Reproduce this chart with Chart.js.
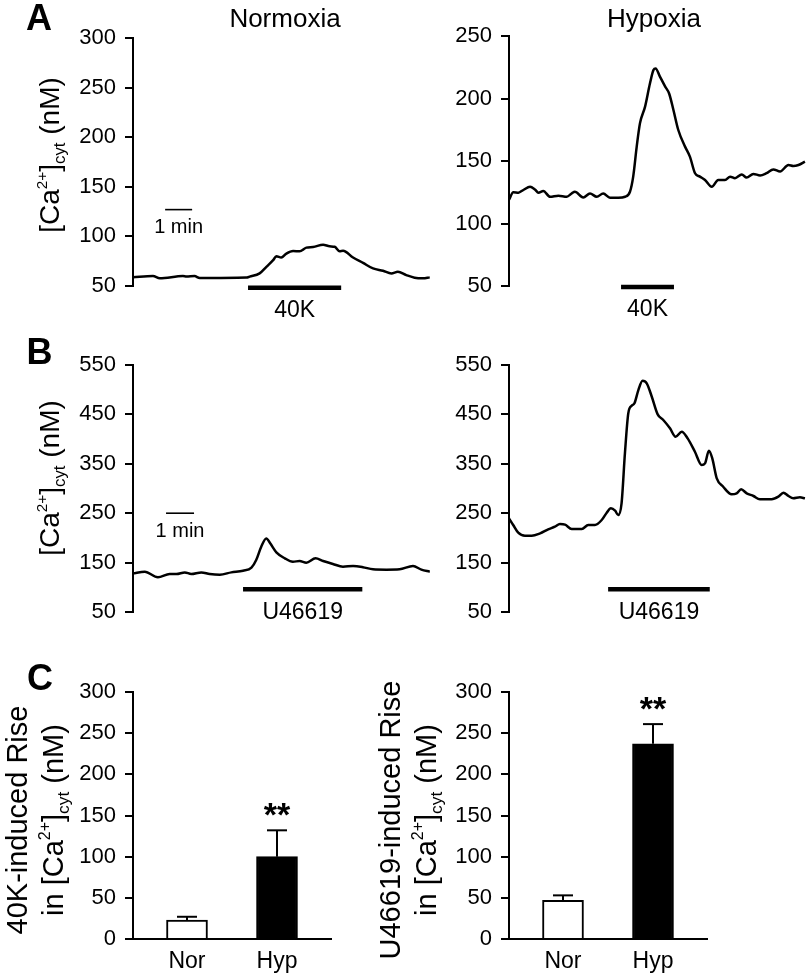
<!DOCTYPE html>
<html><head><meta charset="utf-8">
<script src="https://cdn.jsdelivr.net/npm/chart.js@4.4.0/dist/chart.umd.min.js"></script>
<script>
// ---------- DATA ----------
// Panel A, Normoxia, 40K trace (time in min, [Ca2+]cyt in nM)
const tNorK  = [0,0.74,0.99,1.85,1.98,2.28,2.47,4.2,4.32,4.69,4.94,5.19,5.31,5.49,5.68,5.93,6.17,6.42,6.67,7.04,7.28,7.47,7.65,7.78,8.15,8.52,8.89,9.26,9.57,9.81,10.12,10.43,10.74,10.99];
const caNorK = [58.7,60,57.7,60,59.5,60,58,58.5,59.5,62.7,69.3,76,80,78.7,82.7,85.3,85,88.7,89.3,91.7,90,89.5,85,85.5,78.7,73.3,67.7,65.3,62.7,64.3,61,58.3,57.7,58.7];
// Panel A, Hypoxia, 40K trace
const tHypK  = [0,0.16,0.35,0.53,0.78,0.96,1.09,1.27,1.52,1.83,2.14,2.32,2.44,2.75,3.0,3.25,3.49,3.74,4.05,4.3,4.48,4.6,4.73,4.85,5.04,5.22,5.35,5.43,5.59,5.78,5.93,6.09,6.27,6.52,6.7,6.89,7.07,7.26,7.51,7.75,8.0,8.19,8.37,8.62,8.8,9.05,9.3,9.54,9.79,10.04,10.35,10.53,10.72,10.96];
const caHypK = [119,125,124.7,126.8,129.4,127.2,124.7,126,121.4,122.3,121.4,124,125.4,120.8,124,121.4,124,120.6,120.6,121.4,125.4,137.5,161.5,180.1,193.5,212,222.8,224.1,217.5,209.7,204,190.8,174.8,161.5,153.5,140.2,137.5,134.8,129.4,134.8,134.8,137.5,136.3,139.2,136.8,139.7,138.4,140.3,143.3,141.6,146.8,146,146.8,149.5];
// Panel B, Normoxia, U46619 trace
const tNorU  = [0,0.42,0.89,1.31,1.55,1.85,2.08,2.44,2.74,3.1,3.51,3.93,4.23,4.4,4.58,4.76,4.9,5.12,5.42,5.71,5.95,6.19,6.52,6.79,7.14,7.5,7.86,8.21,8.57,9.05,9.52,10.0,10.3,10.6];
const caNorU = [128.3,131.6,120.2,126.9,126.9,130.2,126.9,130.2,126.9,125.5,130.2,133.6,139.7,155.2,182.2,199,189,170.8,158.7,151.8,153.2,149.8,158.7,153.2,147.2,141.7,143.1,140.8,136.4,135.7,136.4,143.1,135.7,131.6];
// Panel B, Hypoxia, U46619 trace
const tHypU  = [0,0.15,0.33,0.57,0.81,1.11,1.4,1.64,1.82,2.0,2.24,2.6,2.83,3.07,3.31,3.49,3.64,3.79,3.9,4.02,4.14,4.26,4.38,4.48,4.62,4.77,4.92,5.1,5.31,5.51,5.75,5.95,6.17,6.38,6.64,6.88,7.0,7.14,7.26,7.42,7.65,7.95,8.13,8.29,8.49,8.73,8.96,9.38,9.62,9.8,9.98,10.15,10.39,10.57];
const caHypU = [239.6,226.1,210.5,204.4,204.4,209.3,217.4,222.7,228.1,226.8,218,218,226.1,226.1,236.2,251,259.9,255,246.3,270,371.2,452.2,467.6,472.4,499.3,518.2,512.9,485.8,450.1,438.6,421.8,404.8,414.9,401.5,374.4,347.5,350.9,376.5,361.1,320.6,303.6,288.2,290.2,298.3,290.2,284.8,278.1,278.1,283.4,291.5,284.8,280.1,282.1,280.1];
// Application bars: [start min, end min, level nM]
const stimNorK = [4.26, 7.71, 48.3];
const stimHypK = [4.15, 6.11, 49.2];
const stimNorU = [3.93, 8.19, 96];
const stimHypU = [3.54, 7.17, 96];
// 1-min scale bars: [start min, level nM]
const scaleBarA = [1.19, 127];
const scaleBarB = [1.18, 250];
// Panel C bar charts
const barCats   = ['Nor', 'Hyp'];
const riseK     = [23, 100];
const riseKErr  = [4, 32];
const riseU     = [47, 237];
const riseUErr  = [6, 24];
// Tick labels
const yTicksNorK = [50,100,150,200,250,300];
const yTicksHypK = [50,100,150,200,250];
const yTicksU    = [50,150,250,350,450,550];
const yTicksRise = [0,50,100,150,200,250,300];
</script>
<style>
html,body{margin:0;padding:0;background:#fff;}
#wrap{position:relative;width:808px;height:976px;overflow:hidden;background:#fff;font-family:"Liberation Sans",Arial,sans-serif;color:#000;}
canvas{position:absolute;left:0;top:0;}
.t{position:absolute;white-space:nowrap;line-height:1;transform:translate(-50%,-50%);}
.r{position:absolute;white-space:nowrap;text-align:center;transform:rotate(-90deg);}
sup{font-size:55%;vertical-align:baseline;position:relative;top:-0.8em;}
sub{font-size:60%;vertical-align:baseline;position:relative;top:0.35em;}
</style></head>
<body><div id="wrap">
<canvas id="cA1" width="808" height="976"></canvas>
<canvas id="cA2" width="808" height="976"></canvas>
<canvas id="cB1" width="808" height="976"></canvas>
<canvas id="cB2" width="808" height="976"></canvas>
<canvas id="cC1" width="808" height="976"></canvas>
<canvas id="cC2" width="808" height="976"></canvas>

<div class="t" style="left:39px;top:17.5px;font-size:36px;font-weight:bold">A</div>
<div class="t" style="left:39.5px;top:351.5px;font-size:36px;font-weight:bold">B</div>
<div class="t" style="left:40px;top:677.5px;font-size:36px;font-weight:bold">C</div>
<div class="t" style="left:285px;top:18px;font-size:26px">Normoxia</div>
<div class="t" style="left:654px;top:18px;font-size:26px">Hypoxia</div>

<div class="r" style="left:-60px;top:140px;width:220px;height:30px;line-height:30px;font-size:28px">[Ca<sup>2+</sup>]<sub>cyt</sub> (nM)</div>
<div class="r" style="left:-60px;top:463px;width:220px;height:30px;line-height:30px;font-size:28px">[Ca<sup>2+</sup>]<sub>cyt</sub> (nM)</div>
<div class="r" style="left:-125.3px;top:784px;width:320px;height:72px;line-height:36px;font-size:29px">40K-induced Rise<br>in [Ca<sup>2+</sup>]<sub>cyt</sub> (nM)</div>
<div class="r" style="left:248px;top:784px;width:320px;height:72px;line-height:36px;font-size:29px">U46619-induced Rise<br>in [Ca<sup>2+</sup>]<sub>cyt</sub> (nM)</div>
</div>
<script>
const FONT = '"Liberation Sans", Arial, sans-serif';
Chart.defaults.font.family = FONT;
Chart.defaults.color = '#000';

function yAxis(ticksArr, width) {
  return {
    type: 'linear', position: 'left',
    min: ticksArr[0], max: ticksArr[ticksArr.length - 1],
    afterBuildTicks: s => { s.ticks = ticksArr.map(v => ({ value: v })); },
    afterFit: s => { s.width = width; },
    grid: { display: true, drawOnChartArea: false, drawTicks: true, tickLength: 8, tickWidth: 2, tickColor: '#000', color: '#000', lineWidth: 2 },
    border: { display: true, color: '#000', width: 2 },
    ticks: { font: { size: 22 }, color: '#000', padding: 9, autoSkip: false }
  };
}

function line(ctx, x1, y1, x2, y2) { ctx.beginPath(); ctx.moveTo(x1, y1); ctx.lineTo(x2, y2); ctx.stroke(); }

function traceMarks(stim, stimLabel, scaleBar) {
  return {
    id: 'traceMarks',
    afterDraw(chart) {
      const ctx = chart.ctx, xs = chart.scales.x, ys = chart.scales.y;
      ctx.save();
      ctx.strokeStyle = '#000'; ctx.fillStyle = '#000'; ctx.lineCap = 'butt';
      const x1 = xs.getPixelForValue(stim[0]), x2 = xs.getPixelForValue(stim[1]), y = ys.getPixelForValue(stim[2]);
      ctx.lineWidth = 4.5; line(ctx, x1, y, x2, y);
      ctx.font = '23px ' + FONT; ctx.textAlign = 'center'; ctx.textBaseline = 'middle';
      ctx.fillText(stimLabel, (x1 + x2) / 2, y + 23);
      if (scaleBar) {
        const s1 = xs.getPixelForValue(scaleBar[0]), s2 = xs.getPixelForValue(scaleBar[0] + 1), sy = ys.getPixelForValue(scaleBar[1]);
        ctx.lineWidth = 1.6; line(ctx, s1, sy, s2, sy);
        ctx.font = '20px ' + FONT;
        ctx.fillText('1 min', (s1 + s2) / 2, sy + 18);
      }
      ctx.restore();
    }
  };
}

function traceChart(id, t, ca, yTicks, area, xMax, stim, stimLabel, scaleBar) {
  new Chart(document.getElementById(id), {
    type: 'line',
    data: { datasets: [{ data: t.map((v, i) => ({ x: v, y: ca[i] })), borderColor: '#000', borderWidth: 2.5, pointRadius: 0, fill: false, cubicInterpolationMode: 'monotone' }] },
    options: {
      responsive: false, animation: false, devicePixelRatio: 1,
      layout: { padding: { left: 0, top: area.top, right: 808 - area.right, bottom: 976 - area.bottom } },
      plugins: { legend: { display: false }, tooltip: { enabled: false } },
      scales: {
        x: { type: 'linear', display: false, min: 0, max: xMax },
        y: yAxis(yTicks, area.left)
      }
    },
    plugins: [traceMarks(stim, stimLabel, scaleBar)]
  });
}

function errMarks(err) {
  return {
    id: 'errMarks',
    afterDatasetsDraw(chart) {
      const ctx = chart.ctx, xs = chart.scales.x, ys = chart.scales.y;
      const d = chart.data.datasets[0].data;
      ctx.save();
      ctx.strokeStyle = '#000'; ctx.fillStyle = '#000'; ctx.lineWidth = 2; ctx.lineCap = 'butt';
      d.forEach((p, i) => {
        const x = xs.getPixelForValue(p.x);
        const yb = ys.getPixelForValue(p.y), yt = ys.getPixelForValue(p.y + err[i]);
        line(ctx, x, yb, x, yt);
        line(ctx, x - 10, yt, x + 10, yt);
        if (i === d.length - 1) {
          ctx.font = 'bold 34px ' + FONT; ctx.textAlign = 'center'; ctx.textBaseline = 'alphabetic';
          ctx.fillText('**', x, yt - 4.5);
        }
      });
      ctx.restore();
    }
  };
}

function barChart(id, vals, err, area) {
  const axisH = 976 - area.bottom;
  new Chart(document.getElementById(id), {
    type: 'bar',
    data: { datasets: [{ data: vals.map((v, i) => ({ x: i, y: v })), backgroundColor: ['#ffffff', '#000000'], borderColor: '#000', borderWidth: 2, barThickness: 41 }] },
    options: {
      responsive: false, animation: false, devicePixelRatio: 1,
      layout: { padding: { left: 0, top: area.top, right: 808 - area.right, bottom: 0 } },
      plugins: { legend: { display: false }, tooltip: { enabled: false } },
      scales: {
        x: {
          type: 'linear', min: -0.6, max: 1.6, offset: false, bounds: 'data',
          afterBuildTicks: s => { s.ticks = barCats.map((c, i) => ({ value: i })); },
          afterFit: s => { s.height = axisH; },
          grid: { display: true, drawOnChartArea: false, drawTicks: false, offset: false },
          border: { display: true, color: '#000', width: 2 },
          ticks: { font: { size: 23 }, color: '#000', padding: 9, callback: v => barCats[v] }
        },
        y: yAxis(yTicksRise, area.left)
      }
    },
    plugins: [errMarks(err)]
  });
}

traceChart('cA1', tNorK, caNorK, yTicksNorK, { left: 133, right: 430, top: 38, bottom: 286 }, 297 / 27, stimNorK, '40K', scaleBarA);
traceChart('cA2', tHypK, caHypK, yTicksHypK, { left: 509, right: 806, top: 36, bottom: 286 }, 297 / 27, stimHypK, '40K', null);
traceChart('cB1', tNorU, caNorU, yTicksU, { left: 133, right: 430, top: 365, bottom: 612 }, 297 / 28, stimNorU, 'U46619', scaleBarB);
traceChart('cB2', tHypU, caHypU, yTicksU, { left: 509, right: 806, top: 365, bottom: 612 }, 297 / 28, stimHypU, 'U46619', null);
barChart('cC1', riseK, riseKErr, { left: 133, right: 331, top: 692, bottom: 939 });
barChart('cC2', riseU, riseUErr, { left: 509, right: 707, top: 692, bottom: 939 });
</script>
</body></html>
